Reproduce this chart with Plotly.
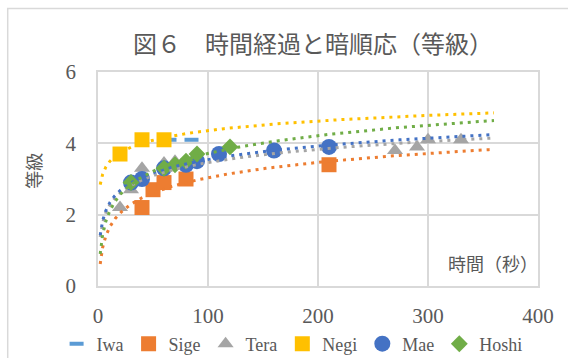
import numpy as np
import plotly.graph_objects as go

# Elapsed time (s) and magnitude readings for each observer
iwa_t = [65, 85]
iwa_m = [4.1, 4.1]

sige_t = [40, 50, 60, 80, 210]
sige_m = [2.2, 2.7, 2.9, 3.0, 3.4]

tera_t = [20, 30, 40, 60, 70, 270, 290, 300, 330]
tera_m = [2.2, 2.7, 3.3, 3.45, 3.5, 3.8, 3.9, 4.1, 4.1]

negi_t = [20, 40, 60]
negi_m = [3.7, 4.1, 4.1]

mae_t = [30, 40, 60, 80, 90, 110, 160, 210]
mae_m = [2.9, 3.0, 3.3, 3.4, 3.5, 3.7, 3.8, 3.9]

hoshi_t = [30, 60, 70, 80, 90, 120]
hoshi_m = [2.9, 3.3, 3.4, 3.5, 3.7, 3.9]

x_ticks = [0, 100, 200, 300, 400]
y_ticks = [0, 2, 4, 6]

# span of the logarithmic trend lines
trend_from, trend_to = 2, 360

GRAY_TXT = "#595959"
GRID = "#d9d9d9"
SERIF = "Liberation Serif"
CJK = "Noto Sans CJK JP"

series = [
    ("Iwa", iwa_t, iwa_m, "#5B9BD5", "line-ew-open", 10, False),
    ("Sige", sige_t, sige_m, "#ED7D31", "square", 15, True),
    ("Tera", tera_t, tera_m, "#A5A5A5", "triangle-up", 14, True),
    ("Negi", negi_t, negi_m, "#FFC000", "square", 15, True),
    ("Mae", mae_t, mae_m, "#4472C4", "circle", 16, True),
    ("Hoshi", hoshi_t, hoshi_m, "#70AD47", "diamond", 13, True),
]

fig = go.Figure()

for name, t, m, col, sym, size, _ in series:
    marker = dict(color=col, size=size, symbol=sym, line=dict(width=0))
    if sym.startswith("line"):
        marker["line"] = dict(color=col, width=4)
    fig.add_trace(go.Scatter(
        x=t, y=m, mode="markers", name=name, marker=marker,
        hoverinfo="x+y",
    ))

# log fits y = a ln(x) + b, drawn above the markers
xs = np.geomspace(trend_from, trend_to, 400)
for name, t, m, col, sym, size, has_trend in series:
    if not has_trend:
        continue
    a, b = np.polyfit(np.log(np.array(t, float)), np.array(m, float), 1)
    fig.add_trace(go.Scatter(
        x=xs, y=a * np.log(xs) + b, mode="lines", showlegend=False,
        line=dict(color=col, width=3, dash="3px,5px"), hoverinfo="skip",
    ))

W, H = 568, 358
ML, MR, MT, MB = 97.5, 29.5, 72, 72
pw, ph = W - ML - MR, H - MT - MB

def px_x(p):
    return (p - ML) / pw

def px_y(p):
    return (H - MB - p) / ph

axis_common = dict(
    showgrid=True, gridcolor=GRID, gridwidth=1.5,
    showline=True, linecolor=GRID, linewidth=1.5, mirror=True,
    zeroline=False, ticks="", automargin=False,
    tickfont=dict(family=SERIF, size=21, color=GRAY_TXT),
)

fig.update_layout(
    width=W, height=H,
    margin=dict(l=ML, r=MR, t=MT, b=MB, autoexpand=False),
    paper_bgcolor="white", plot_bgcolor="white",
    xaxis=dict(range=[0, 400], tickvals=x_ticks, ticklabelstandoff=10, **axis_common),
    yaxis=dict(range=[0, 6], tickvals=y_ticks, ticklabelstandoff=16, **axis_common),
    legend=dict(
        orientation="h", x=px_x(56), xanchor="left",
        y=px_y(344), yanchor="middle",
        font=dict(family=SERIF, size=18, color=GRAY_TXT),
        itemwidth=30, tracegroupgap=0,
    ),
    showlegend=True,
    annotations=[
        dict(text="図６　時間経過と暗順応（等級）", xref="paper", yref="paper",
             x=px_x(312.5), y=px_y(42), xanchor="center", yanchor="middle",
             showarrow=False, font=dict(family=CJK, size=24, color=GRAY_TXT)),
        dict(text="時間（秒）", xref="paper", yref="paper",
             x=px_x(541), y=px_y(263), xanchor="right", yanchor="middle",
             showarrow=False, font=dict(family=CJK, size=18, color=GRAY_TXT)),
        dict(text="等級", xref="paper", yref="paper", textangle=-90,
             x=px_x(32), y=px_y(171), xanchor="center", yanchor="middle",
             showarrow=False, font=dict(family=CJK, size=18, color=GRAY_TXT)),
    ],
    shapes=[
        dict(type="rect", xref="paper", yref="paper", layer="below",
             x0=px_x(7), x1=px_x(W + 20), y0=px_y(H + 20), y1=px_y(8.5),
             line=dict(color=GRID, width=1.5), fillcolor="rgba(0,0,0,0)"),
    ],
)

fig.write_html("out.html")
